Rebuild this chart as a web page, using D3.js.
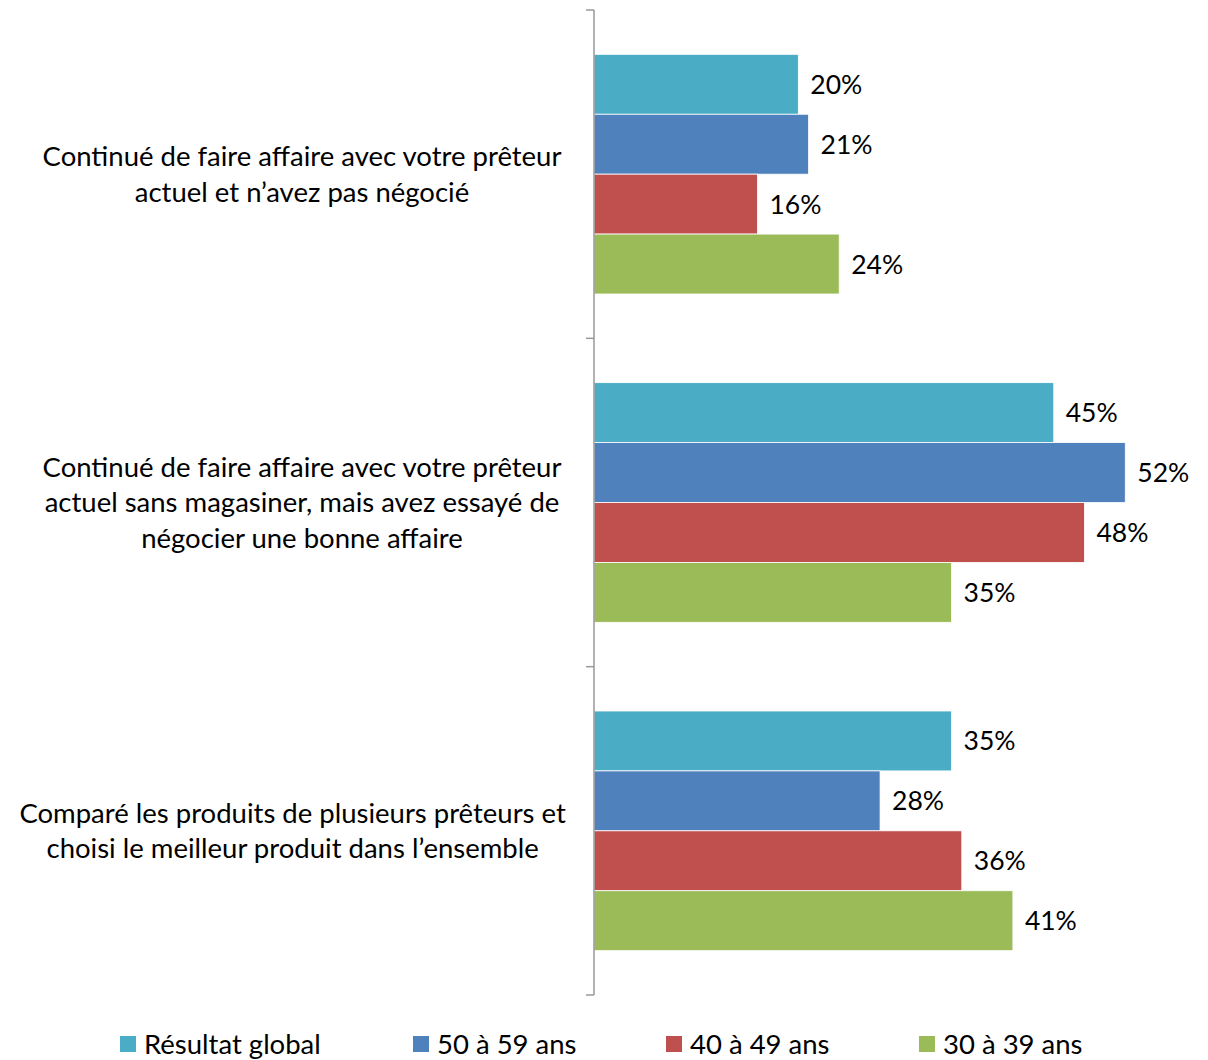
<!DOCTYPE html>
<html>
<head>
<meta charset="utf-8">
<script src="https://cdn.jsdelivr.net/npm/d3@7"></script>
<style>
  body { margin: 0; background: #fff; }
  text { font-family: Lato, "Open Sans", sans-serif; fill: #000; }
</style>
</head>
<body>
<div id="chart"></div>
<script>
const categories = [
  ["Continué de faire affaire avec votre prêteur", "actuel et n’avez pas négocié"],
  ["Continué de faire affaire avec votre prêteur", "actuel sans magasiner, mais avez essayé de", "négocier une bonne affaire"],
  ["Comparé les produits de plusieurs prêteurs et", "choisi le meilleur produit dans l’ensemble"]
];
const series = ["Résultat global", "50 à 59 ans", "40 à 49 ans", "30 à 39 ans"];
const colors = ["#4BACC6", "#4F81BD", "#C0504D", "#9BBB59"];
const values = [
  [20, 21, 16, 24],
  [45, 52, 48, 35],
  [35, 28, 36, 41]
];

const W = 1208, H = 1060;
const svg = d3.select("#chart").append("svg").attr("width", W).attr("height", H);

const catIdx = categories.map((d, i) => i);
const y0 = d3.scaleBand().domain(catIdx).range([10, 995]);
const y1 = d3.scaleBand().domain(series).range([0, y0.bandwidth()]).paddingInner(0).paddingOuter(0.74);
const x = d3.scaleLinear().domain([0, 60]).range([594, 1207]);

// bars
const groups = svg.selectAll(".grp").data(values).enter().append("g")
  .attr("transform", (d, i) => `translate(0,${y0(i)})`);

groups.selectAll("rect").data(d => d.map((v, j) => ({v, s: series[j], c: colors[j]})))
  .enter().append("rect")
  .attr("x", x(0))
  .attr("y", d => y1(d.s))
  .attr("width", d => x(d.v) - x(0))
  .attr("height", y1.bandwidth())
  .attr("fill", d => d.c)
  .attr("stroke", "#fff").attr("stroke-width", 0.8);

groups.selectAll(".lbl").data(d => d.map((v, j) => ({v, s: series[j]})))
  .enter().append("text")
  .attr("x", d => x(d.v) + 12)
  .attr("y", d => y1(d.s) + y1.bandwidth() / 2)
  .attr("dy", "0.36em")
  .style("font-size", "26.5px")
  .text(d => d.v + "%");

// axis line + ticks between categories
svg.append("line").attr("x1", x(0)).attr("x2", x(0)).attr("y1", 10).attr("y2", 995)
  .attr("stroke", "#999").attr("stroke-width", 1.5);
const tickYs = catIdx.map(i => y0(i)).concat([y0(catIdx.length - 1) + y0.bandwidth()]);
svg.selectAll(".tick").data(tickYs).enter().append("line")
  .attr("x1", x(0) - 8).attr("x2", x(0))
  .attr("y1", d => d).attr("y2", d => d)
  .attr("stroke", "#999").attr("stroke-width", 1.5);

// category labels (centred, but kept clear of the axis)
const lineH = 35.5, labelCx = 302, labelMaxRight = 566;
categories.forEach((lines, i) => {
  const cy = y0(i) + y0.bandwidth() / 2;
  const t = svg.append("text").attr("text-anchor", "middle").style("font-size", "27.5px");
  lines.forEach((ln, k) => {
    t.append("tspan").attr("x", labelCx)
      .attr("y", cy + (k - (lines.length - 1) / 2) * lineH)
      .attr("dy", "0.36em").text(ln);
  });
  const bb = t.node().getBBox();
  const shift = Math.min(0, labelMaxRight - (bb.x + bb.width));
  t.selectAll("tspan").attr("x", labelCx + shift);
});

// legend
const legX = [120, 413, 666, 919];
const leg = svg.selectAll(".leg").data(series).enter().append("g")
  .attr("transform", (d, i) => `translate(${legX[i]},1044)`);
leg.append("rect").attr("x", 0).attr("y", -8).attr("width", 16).attr("height", 16)
  .attr("fill", (d, i) => colors[i]);
leg.append("text").attr("x", 24).attr("y", 0).attr("dy", "0.36em")
  .style("font-size", "27.5px").text(d => d);
</script>
</body>
</html>
